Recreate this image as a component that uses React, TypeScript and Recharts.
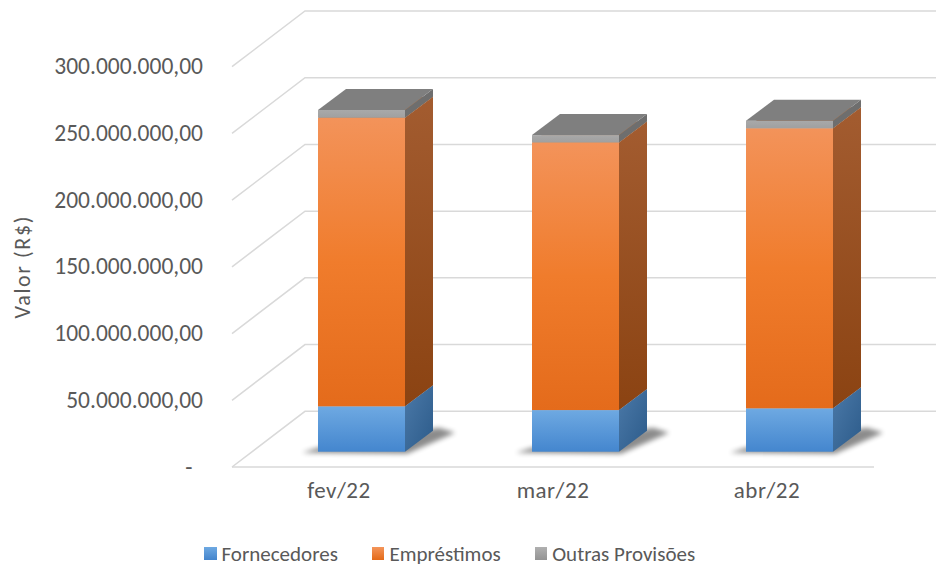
import React from 'react';
import { ComposedChart, Bar, XAxis, YAxis, CartesianGrid, Legend, ReferenceLine } from 'recharts';

const categories = ['fev/22', 'mar/22', 'abr/22'];
const fornecedores = [34.0e6, 31.2e6, 32.5e6];
const emprestimos = [216.3e6, 200.6e6, 209.9e6];
const outrasProvisoes = [5.8e6, 5.5e6, 5.7e6];
const yTicks = [0, 50e6, 100e6, 150e6, 200e6, 250e6, 300e6];
const seriesNames = ['Fornecedores', 'Empréstimos', 'Outras Provisões'];

const data = categories.map((c, i) => ({
  name: c,
  fornecedores: fornecedores[i],
  emprestimos: emprestimos[i],
  outras: outrasProvisoes[i],
}));

const FONT = "Carlito, 'Open Sans', sans-serif";
const TEXT = '#595959';
const GRID = '#d9d9d9';

// 3D geometry (layout constants)
const WALL_DX = 73;
const WALL_DY = 55.7;
const FACE_DX = 22;
const FACE_DY = 15.3;
const BOX_DX = 28;
const BOX_DY = 21;

const SERIES = [
  { key: 'fornecedores', name: seriesNames[0], front: 'url(#gFornFront)', side: 'url(#gFornSide)', top: '#5f8fc0', legend: 'linear-gradient(#6ea9e2, #4384cc)', shadow: true },
  { key: 'emprestimos', name: seriesNames[1], front: 'url(#gEmpFront)', side: 'url(#gEmpSide)', top: '#c46a2c', legend: 'linear-gradient(#f4955a, #e46a18)', shadow: false },
  { key: 'outras', name: seriesNames[2], front: 'url(#gOutFront)', side: '#6e6e6e', top: '#7f7f7f', legend: 'linear-gradient(#b0b0b0, #939393)', shadow: false },
];

const fmt = (v: number) => {
  if (v === 0) return '-\u00a0\u00a0';
  const s = Math.round(v).toString().replace(/\B(?=(\d{3})+(?!\d))/g, '.');
  return s + ',00';
};

const pts = (arr: number[][]) => arr.map((p) => p.join(',')).join(' ');

function Box3D(props: any) {
  const { x, y, width, height, front, side, top, shadow } = props;
  if (width == null || height == null || isNaN(x) || isNaN(y)) return null;
  const fx = x + FACE_DX;
  const fy = y - FACE_DY;
  const w = width;
  const h = height;
  const yb = fy + h;
  return (
    <g>
      {shadow && (
        <polygon
          points={pts([
            [fx - 16, yb + 1],
            [fx + w + 2, yb + 2],
            [fx + w + BOX_DX + 22, yb - BOX_DY + 2],
            [fx + w + BOX_DX + 6, yb - BOX_DY - 3],
            [fx, yb - 4],
          ])}
          fill="#000"
          opacity={0.45}
          filter="url(#shadowBlur)"
        />
      )}
      <rect x={fx} y={fy} width={w} height={h} fill={front} />
      <polygon
        points={pts([
          [fx + w, fy],
          [fx + w + BOX_DX, fy - BOX_DY],
          [fx + w + BOX_DX, yb - BOX_DY],
          [fx + w, yb],
        ])}
        fill={side}
      />
      <polygon
        points={pts([
          [fx, fy],
          [fx + w, fy],
          [fx + w + BOX_DX, fy - BOX_DY],
          [fx + BOX_DX, fy - BOX_DY],
        ])}
        fill={top}
      />
    </g>
  );
}

const gridLine = (props: any) => {
  const { x1, y1, key } = props;
  const d = `M${x1},${y1} L${x1 + WALL_DX},${y1 - WALL_DY} L${x1 + 2000},${y1 - WALL_DY}`;
  return <path key={key} d={d} stroke={GRID} strokeWidth={1.5} fill="none" />;
};

const YTick = (props: any) => {
  const { x, y, payload } = props;
  return (
    <text x={x} y={y + 7.6} textAnchor="end" fill={TEXT} fontSize={23.5} fontFamily={FONT}>
      {fmt(payload.value)}
    </text>
  );
};

const XTick = (props: any) => {
  const { x, y, payload } = props;
  return (
    <text x={x} y={y + 31} textAnchor="middle" fill={TEXT} fontSize={23} fontFamily={FONT} letterSpacing={0.5}>
      {payload.value}
    </text>
  );
};

const YLabel = (props: any) => {
  const vb = props.viewBox || {};
  const cx = (vb.x || 0) + 22.5;
  const cy = (vb.y || 0) + (vb.height || 0) / 2;
  return (
    <text
      x={cx}
      y={cy}
      transform={`rotate(-90, ${cx}, ${cy})`}
      textAnchor="middle"
      dominantBaseline="central"
      fill={TEXT}
      fontSize={22}
      fontFamily={FONT}
      letterSpacing={1.6}
    >
      Valor (R$)
    </text>
  );
};

const LegendContent = (props: any) => {
  const payload = [...(props.payload || [])].sort(
    (a: any, b: any) => SERIES.findIndex((s) => s.key === a.dataKey) - SERIES.findIndex((s) => s.key === b.dataKey)
  );
  return (
    <div
      style={{
        display: 'flex',
        alignItems: 'center',
        height: 27,
        paddingLeft: 204,
        fontFamily: FONT,
        fontSize: 21,
        color: TEXT,
        whiteSpace: 'nowrap',
      }}
    >
      {payload.map((p: any, i: number) => {
        const s = SERIES.find((ss) => ss.key === p.dataKey) || SERIES[i];
        return (
          <div key={s.key} style={{ display: 'flex', alignItems: 'center', marginRight: i < payload.length - 1 ? 34 : 0 }}>
            <span style={{ width: 12.5, height: 12.5, background: s.legend, display: 'inline-block', marginRight: 5 }} />
            <span>{p.value}</span>
          </div>
        );
      })}
    </div>
  );
};

export default function App() {
  return (
    <div style={{ position: 'absolute', left: 0, top: 0, width: 936, height: 567, background: '#fff' }}>
      <ComposedChart
        width={936}
        height={567}
        data={data}
        margin={{ top: 66.7, right: 62, bottom: 0, left: 0 }}
        barSize={87}
      >
        <defs>
          <linearGradient id="gFornFront" x1="0" y1="0" x2="0" y2="1">
            <stop offset="0" stopColor="#6ea9e2" />
            <stop offset="1" stopColor="#4486ce" />
          </linearGradient>
          <linearGradient id="gFornSide" x1="0" y1="0" x2="1" y2="1">
            <stop offset="0" stopColor="#4b79a8" />
            <stop offset="1" stopColor="#2c5b8a" />
          </linearGradient>
          <linearGradient id="gEmpFront" x1="0" y1="0" x2="0" y2="1">
            <stop offset="0" stopColor="#f3935a" />
            <stop offset="0.5" stopColor="#f07c2c" />
            <stop offset="1" stopColor="#e46b1b" />
          </linearGradient>
          <linearGradient id="gEmpSide" x1="0" y1="0" x2="0" y2="1">
            <stop offset="0" stopColor="#a35c30" />
            <stop offset="1" stopColor="#8b4312" />
          </linearGradient>
          <linearGradient id="gOutFront" x1="0" y1="0" x2="0" y2="1">
            <stop offset="0" stopColor="#a9a9a9" />
            <stop offset="1" stopColor="#a0a0a0" />
          </linearGradient>
          <filter id="shadowBlur" x="-50%" y="-50%" width="200%" height="200%">
            <feGaussianBlur stdDeviation="2.8" />
          </filter>
        </defs>
        <CartesianGrid vertical={false} horizontal={gridLine} />
        <ReferenceLine y={0} stroke={GRID} strokeWidth={1.5} />
        <XAxis
          dataKey="name"
          axisLine={false}
          tickLine={false}
          tickSize={0}
          tickMargin={0}
          height={73}
          tick={<XTick />}
          interval={0}
        />
        <YAxis
          width={232}
          domain={[0, 300e6]}
          ticks={yTicks}
          axisLine={false}
          tickLine={false}
          tickSize={0}
          tickMargin={29}
          tick={<YTick />}
          interval={0}
          label={<YLabel />}
        />
        {SERIES.map((s) => (
          <Bar
            key={s.key}
            dataKey={s.key}
            name={s.name}
            stackId="a"
            fill={s.front}
            isAnimationActive={false}
            shape={(p: any) => <Box3D {...p} front={s.front} side={s.side} top={s.top} shadow={s.shadow} />}
          />
        ))}
        <Legend
          verticalAlign="bottom"
          content={<LegendContent />}
          wrapperStyle={{ left: 0, width: 936, bottom: 0 }}
        />
      </ComposedChart>
    </div>
  );
}
